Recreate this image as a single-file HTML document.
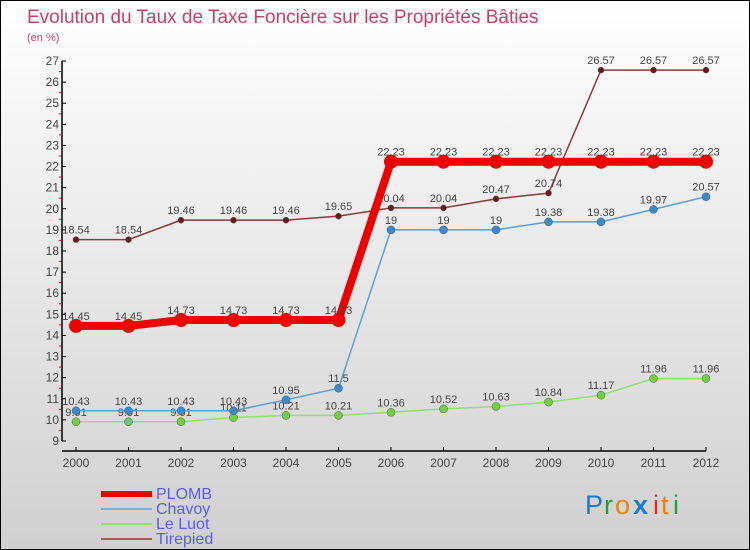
<!DOCTYPE html>
<html><head><meta charset="utf-8"><style>
body{margin:0}
#wrap{width:748px;height:548px;border:1px solid #000;background:linear-gradient(#fff,#d0d0d0);position:relative;font-family:"Liberation Sans",sans-serif;overflow:hidden}
svg{position:absolute;left:0;top:0}
</style></head><body>
<div id="wrap">
<svg id="svg" width="750" height="550">
<text x="26" y="22" font-size="19" fill="#c8406a">Evolution du Taux de Taxe Foncière sur les Propriétés Bâties</text>
<text x="26" y="40" font-size="11" fill="#c8406a">(en %)</text>
<g font-size="27">
<text x="584" y="513" fill="#1a7ad0">P</text><text x="603" y="513" fill="#2a9a40">r</text><text x="614" y="513" fill="#f08000">o</text><text x="632" y="513" fill="#1a7ad0" font-weight="bold">x</text><text x="652" y="513" fill="#e03020">i</text><text x="660" y="513" fill="#f08000">t</text><text x="672" y="513" fill="#2a9a40">i</text>
</g>
</svg>
</div>
<script>
const years=[2000,2001,2002,2003,2004,2005,2006,2007,2008,2009,2010,2011,2012];
const plomb=[14.45,14.45,14.73,14.73,14.73,14.73,22.23,22.23,22.23,22.23,22.23,22.23,22.23];
const chavoy=[10.43,10.43,10.43,10.43,10.95,11.5,19,19,19,19.38,19.38,19.97,20.57];
const leluot=[9.91,9.91,9.91,10.11,10.21,10.21,10.36,10.52,10.63,10.84,11.17,11.96,11.96];
const tirepied=[18.54,18.54,19.46,19.46,19.46,19.65,20.04,20.04,20.47,20.74,26.57,26.57,26.57];
const yTicks=[9,10,11,12,13,14,15,16,17,18,19,20,21,22,23,24,25,26,27];
const NS="http://www.w3.org/2000/svg";
const svg=document.getElementById('svg');
const xS=i=>75+i*52.5;
const yS=v=>60+(27-v)*21.11;
function mk(t,a,p){const e=document.createElementNS(NS,t);for(const k in a)e.setAttribute(k,a[k]);(p||svg).appendChild(e);return e;}
const ax=mk('g',{});


mk('line',{x1:61,y1:yS(27),x2:61,y2:yS(9),stroke:'#000','stroke-width':1.5},ax);
mk('line',{x1:61,y1:450,x2:705,y2:450,stroke:'#000','stroke-width':1.5},ax);
yTicks.forEach(v=>{
  mk('line',{x1:61,y1:yS(v),x2:65,y2:yS(v),stroke:'#000'},ax);
  if(v<27)mk('line',{x1:58,y1:yS(v+0.5),x2:61,y2:yS(v+0.5),stroke:'#e00'},ax);
  const t=mk('text',{x:58,y:yS(v)+4,'font-size':12,fill:'#444','text-anchor':'end'},ax);t.textContent=v;
  
  
});
years.forEach((y,i)=>{
  mk('line',{x1:xS(i),y1:446,x2:xS(i),y2:450,stroke:'#000'},ax);
  const t=mk('text',{x:xS(i),y:466,'font-size':12,fill:'#444','text-anchor':'middle'},ax);t.textContent=y;
  
  
});
const series=[
 {name:'leluot',data:leluot,line:'#90e070',pt:'#70d040',w:1.5,r:4},
 {name:'chavoy',data:chavoy,line:'#5aa0d0',pt:'#3a8ad0',w:1.5,r:4},
 {name:'tirepied',data:tirepied,line:'#8a3a3a',pt:'#6a1a1a',w:1.5,r:3},
 {name:'plomb',data:plomb,line:'#ee0000',pt:'#ee0000',w:8,r:7}
];
series.forEach(s=>{
  const g=mk('g',{});
  
  
  mk('polyline',{points:s.data.map((v,i)=>xS(i)+','+yS(v)).join(' '),fill:'none',stroke:s.line,'stroke-width':s.w},g);
  s.data.forEach((v,i)=>{
    const c=mk('circle',{cx:xS(i),cy:yS(v),r:s.r,fill:s.pt,stroke:s.name==='plomb'?'none':'#555','stroke-width':0.5},g);
    
    
    const t=mk('text',{x:xS(i),y:yS(v)-6,'font-size':11,fill:'#444','text-anchor':'middle'},g);t.textContent=v;
    
    
  });
});
const leg=[['PLOMB','#ee0000',6],['Chavoy','#7aaed0',2],['Le Luot','#90e070',2],['Tirepied','#a06060',2]];
leg.forEach((l,i)=>{
  const g=mk('g',{});
  
  
  const y=493+i*15;
  mk('line',{x1:100,y1:y,x2:151,y2:y,stroke:l[1],'stroke-width':l[2]},g);
  const t=mk('text',{x:155,y:y+5,'font-size':16,fill:'#5a5aee'},g);t.textContent=l[0];
});
</script>
</body></html>
